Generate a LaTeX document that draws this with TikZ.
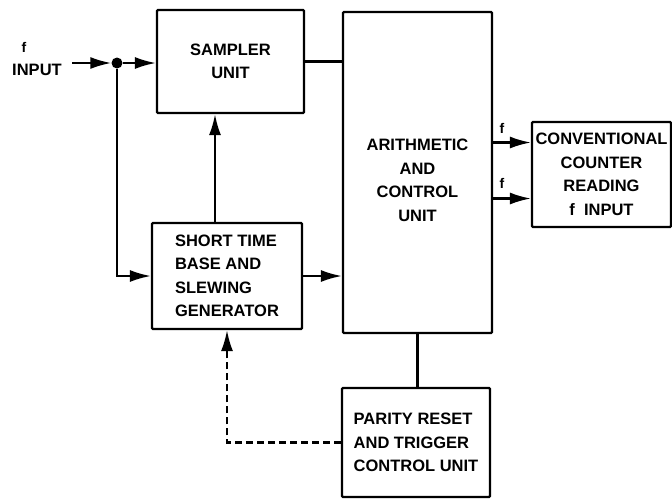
\documentclass[tikz,border=0pt]{standalone}
\usepackage{fontspec}
\setmainfont{Liberation Sans}
\usetikzlibrary{positioning,calc,arrows.meta}
\newcommand{\blkfont}{\fontsize{16.5}{23.5}\selectfont\bfseries}
\tikzset{
  blk/.style={draw,line width=2.2pt,rounded corners=1pt,font=\blkfont},
  sig/.style={line width=2.2pt,-{Latex[length=21pt,width=12pt]}},
  wire/.style={line width=2.2pt},
  flbl/.style={font=\fontsize{14}{14}\selectfont\bfseries,inner sep=1pt}
}

\begin{document}
\begin{tikzpicture}[x=1pt,y=-1pt]
  \useasboundingbox (0,0) rectangle (672,499);
  % blocks
  \node[blk,minimum width=147pt,minimum height=103pt,align=center] (smp) at (230.5,61.5) {SAMPLER\\UNIT};
  \node[blk,minimum width=149pt,minimum height=321pt,align=center] (ari) at (417.5,172.5) {\\[4pt]ARITHMETIC\\AND\\CONTROL\\UNIT};
  \node[blk,minimum width=150pt,minimum height=106pt,align=left] (stb) at (227,276) {SHORT TIME\\BASE AND\\SLEWING\\GENERATOR};
  \node[blk,minimum width=148pt,minimum height=109pt,align=left] (par) at (416,442.5) {PARITY RESET\\AND TRIGGER\\CONTROL UNIT};
  \node[blk,minimum width=139pt,minimum height=105pt,inner xsep=2pt,align=center] (cnv) at (601.5,174.5) {CONVENTIONAL\\COUNTER\\READING\\f\ \ INPUT};
  % input
  \node[flbl] (fin) at (24,47) {f};
  \node[font=\blkfont,inner sep=1pt] (inp) at (37,70) {INPUT};
  \coordinate (in) at (72,63);
  \node[fill,circle,inner sep=0pt,minimum size=11pt] (dot) at (117,63) {};
  \draw[sig] (in) -- (dot);
  \draw[sig] (dot) -- (dot -| smp.west);
  \draw[sig] (dot) |- (stb.west);
  % links between blocks
  \draw[wire] (smp.east) -- (smp.east -| ari.west);
  \draw[sig] (stb.east) -- (stb.east -| ari.west);
  \path (stb.north) ++(-12,0) coordinate (up);
  \draw[sig] (up) -- (up |- smp.south);
  \draw[wire] (ari.south) -- (ari.south |- par.north);
  \draw[sig,dash pattern=on 7pt off 4pt] (par.west) -| (stb.south);
  % outputs
  \path (cnv.west) ++(0,-32) coordinate (oa) ++(0,56) coordinate (ob);
  \draw[sig] (oa -| ari.east) -- (oa);
  \draw[sig] (ob -| ari.east) -- (ob);
  \node[flbl] (fa) at (502,128) {f};
  \node[flbl] (fb) at (502,183) {f};
\end{tikzpicture}
\end{document}
